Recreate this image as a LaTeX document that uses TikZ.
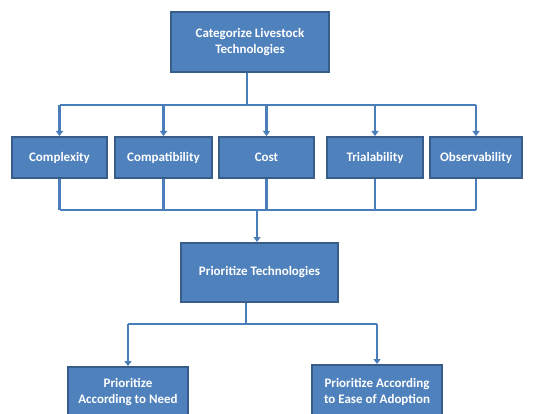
\documentclass[tikz,border=0pt]{standalone}
\usepackage{fontspec}
\setmainfont{Carlito}
\usetikzlibrary{arrows.meta}
\definecolor{boxfill}{HTML}{4F81BD}
\definecolor{boxline}{HTML}{385D8A}
\definecolor{conn}{HTML}{4A7EBB}
\begin{document}
\begin{tikzpicture}[x=1pt,y=-1pt,
  box/.style={draw=boxline,line width=2pt,fill=boxfill,text=white,align=center,
    inner sep=0pt,font=\bfseries\fontsize{13}{16.5}\selectfont},
  link/.style={draw=conn,line width=2.6pt},
  arr/.style={link,-{Triangle[width=7pt,length=5pt]}}]
\useasboundingbox (0,0) rectangle (553,414);
\clip (0,0) rectangle (553,414);
\node[box,minimum width=158pt,minimum height=60pt] (top) at (250,42) {Categorize Livestock\\Technologies};
\node[box,minimum width=95pt,minimum height=41pt] (cx) at (59.5,157.5) {Complexity};
\node[box,minimum width=97pt,minimum height=41pt] (cp) at (163.5,157.5) {Compatibility};
\node[box,minimum width=95pt,minimum height=41pt] (co) at (266.5,157.5) {Cost};
\node[box,minimum width=96pt,minimum height=41pt] (tr) at (375,157.5) {Trialability};
\node[box,minimum width=92pt,minimum height=41pt] (ob) at (476,157.5) {Observability};
\node[box,minimum width=157pt,minimum height=59pt] (pt) at (259.5,272.5) {Prioritize Technologies};
\node[box,minimum width=120pt,minimum height=50pt] (pn) at (128,392) {Prioritize\\According to Need};
\node[box,minimum width=130pt,minimum height=54pt] (pe) at (377,392) {Prioritize According\\to Ease of Adoption};
% junctions
\coordinate (j1) at (247,105);
\coordinate (j2) at (257,210);
\coordinate (j3) at (246,324);
% top to five
\draw[link] (top.south -| j1) -- (j1);
\draw[link] (cx.north |- j1) -- (ob.north |- j1);
\foreach \n in {cx,cp,co,tr,ob}{
  \draw[arr] (\n.north |- j1) -- (\n.north);
}
% five to prioritize
\foreach \n in {cx,cp,co,tr,ob}{
  \draw[link] (\n.south) -- (\n.south |- j2);
}
\draw[link] (cx.south |- j2) -- (ob.south |- j2);
\draw[arr] (j2) -- (pt.north -| j2);
% prioritize to bottom
\draw[link] (pt.south -| j3) -- (j3);
\draw[link] (pn.north |- j3) -- (pe.north |- j3);
\draw[arr] (pn.north |- j3) -- (pn.north);
\draw[arr] (pe.north |- j3) -- (pe.north);
\end{tikzpicture}
\end{document}
